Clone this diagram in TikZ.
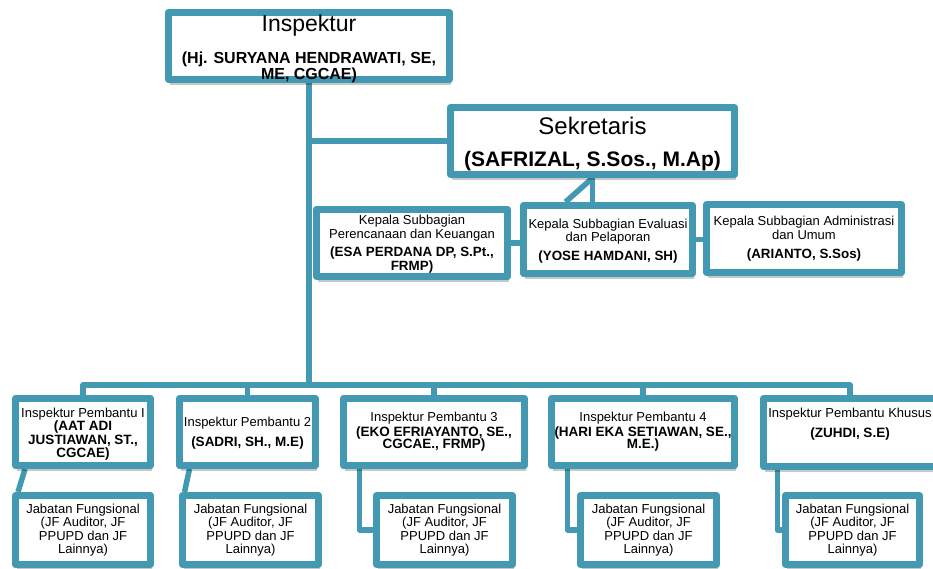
\documentclass[tikz,border=0pt]{standalone}
\usepackage{fontspec}
\setmainfont{Liberation Sans}
\usetikzlibrary{shadows,calc,backgrounds}
\definecolor{tealA}{RGB}{67,152,178}
\lineskiplimit=-100pt
\newcommand\myfs[1]{\fontsize{#1}{13.5}\selectfont}
\tikzset{
  box/.style={draw=tealA, line width=7pt, line join=round, fill=white, inner sep=0pt,
    drop shadow={shadow xshift=1.5pt, shadow yshift=-5pt, opacity=0.22, fill=black}},
  txt/.style={align=center, inner sep=0pt, font=\myfs{13}},
  conn/.style={draw=tealA, line width=5.5pt, line join=round},
}
\begin{document}
\begin{tikzpicture}[x=1pt,y=-1pt]
\useasboundingbox (0,0) rectangle (933,568);
% boxes
\node[box, minimum width=281pt, minimum height=67pt] (insp) at (309,46) {};
\node[box, minimum width=284pt, minimum height=67pt] (sek) at (592.5,141) {};
\node[box, minimum width=191pt, minimum height=67pt] (per) at (412,243) {};
\node[box, minimum width=169pt, minimum height=68pt] (eva) at (608,239.5) {};
\node[box, minimum width=195pt, minimum height=68pt] (adm) at (804,238.5) {};
\node[box, minimum width=135pt, minimum height=67pt] (ip1) at (83,432) {};
\node[box, minimum width=136pt, minimum height=67pt] (ip2) at (247.5,432) {};
\node[box, minimum width=181pt, minimum height=67pt] (ip3) at (434,432) {};
\node[box, minimum width=183pt, minimum height=67pt] (ip4) at (643,432) {};
\node[box, minimum width=173pt, minimum height=68pt] (ipk) at (850,432.5) {};
\node[box, minimum width=135pt, minimum height=69pt] (jf1) at (83,530) {};
\node[box, minimum width=136pt, minimum height=69pt] (jf2) at (250.5,530) {};
\node[box, minimum width=136pt, minimum height=69pt] (jf3) at (444.5,530) {};
\node[box, minimum width=136pt, minimum height=69pt] (jf4) at (648.5,530) {};
\node[box, minimum width=134pt, minimum height=69pt] (jf5) at (852.5,530) {};
% connectors
\begin{scope}[on background layer]
\coordinate (bus) at (309,385);
\draw[conn] (insp.south) -- (bus);
\draw[conn] (insp.south |- sek.west) -- (sek.west);
\draw[conn] (sek.south) -- (eva.north -| sek.south);
\draw[conn] (sek.south) -- ($(eva.north -| sek.south)+(-27,0)$);
\draw[conn] (per.east) -- (per.east -| eva.west);
\draw[conn] (eva.east) -- (eva.east -| adm.west);
\draw[conn] (ip1.north) |- (bus) -| (ipk.north);
\draw[conn] (ip2.north) -- (ip2.north |- bus);
\draw[conn] (ip3.north) -- (ip3.north |- bus);
\draw[conn] (ip4.north) -- (ip4.north |- bus);
\draw[conn] ($(ip1.south west)+(13,0)$) -- ($(jf1.north west)+(6,0)$);
\draw[conn] ($(ip2.south west)+(13.5,0)$) -- ($(jf2.north west)+(5.5,0)$);
\draw[conn] ($(ip3.south west)+(19.5,0)$) |- (jf3.west);
\draw[conn] ($(ip4.south west)+(19.5,0)$) |- (jf4.west);
\draw[conn] ($(ipk.south west)+(17.5,0)$) |- (jf5.west);
\end{scope}
% texts
\node[txt] (t-insp) at ($(insp.center)+(0,2.5)$) {\myfs{23}Inspektur\\[19pt]\myfs{16}\bfseries (Hj. SURYANA HENDRAWATI, SE,\\[2pt]\myfs{16}\bfseries ME, CGCAE)};
\node[txt] (t-sek) at ($(sek.center)+(0,3.2)$) {\myfs{24}Sekretaris\\[18pt]\myfs{21}\bfseries (SAFRIZAL, S.Sos., M.Ap)};
\node[txt] (t-per) at ($(per.center)+(0,1.2)$) {Kepala Subbagian\\[0.5pt]Perencanaan dan Keuangan\\[4.2pt]\myfs{13.4}\bfseries (ESA PERDANA DP, S.Pt.,\\[1.2pt]\myfs{13.4}\bfseries FRMP)};
\node[txt] (t-eva) at ($(eva.center)+(0,1.7)$) {Kepala Subbagian Evaluasi\\dan Pelaporan\\[5.5pt]\myfs{13.4}\bfseries (YOSE HAMDANI, SH)};
\node[txt] (t-adm) at ($(adm.center)+(0,0.3)$) {Kepala Subbagian Administrasi\\dan Umum\\[5.5pt]\myfs{13.4}\bfseries (ARIANTO, S.Sos)};
\node[txt] (t-ip1) at ($(ip1.center)+(0,2.2)$) {Inspektur Pembantu I\\\myfs{13.5}\bfseries (AAT ADI\\\myfs{13.5}\bfseries JUSTIAWAN, ST.,\\\myfs{13.5}\bfseries CGCAE)};
\node[txt] (t-ip2) at ($(ip2.center)+(0,1.3)$) {Inspektur Pembantu 2\\[6.5pt]\myfs{13.5}\bfseries (SADRI, SH., M.E)};
\node[txt] (t-ip3) at ($(ip3.center)+(0,-0.25)$) {Inspektur Pembantu 3\\[1.5pt]\myfs{13.5}\bfseries (EKO EFRIAYANTO, SE.,\\[-1pt]\myfs{13.5}\bfseries CGCAE., FRMP)};
\node[txt] (t-ip4) at ($(ip4.center)+(0,-0.25)$) {Inspektur Pembantu 4\\[1.5pt]\myfs{13.5}\bfseries (HARI EKA SETIAWAN, SE.,\\[-1pt]\myfs{13.5}\bfseries M.E.)};
\node[txt] (t-ipk) at ($(ipk.center)+(0,-8.5)$) {Inspektur Pembantu Khusus\\[6.5pt]\myfs{13.5}\bfseries (ZUHDI, S.E)};
\node[txt] (t-jf1) at (jf1.center) {Jabatan Fungsional\\(JF Auditor, JF\\PPUPD dan JF\\Lainnya)};
\node[txt] (t-jf2) at (jf2.center) {Jabatan Fungsional\\(JF Auditor, JF\\PPUPD dan JF\\Lainnya)};
\node[txt] (t-jf3) at (jf3.center) {Jabatan Fungsional\\(JF Auditor, JF\\PPUPD dan JF\\Lainnya)};
\node[txt] (t-jf4) at (jf4.center) {Jabatan Fungsional\\(JF Auditor, JF\\PPUPD dan JF\\Lainnya)};
\node[txt] (t-jf5) at (jf5.center) {Jabatan Fungsional\\(JF Auditor, JF\\PPUPD dan JF\\Lainnya)};
\end{tikzpicture}
\end{document}
